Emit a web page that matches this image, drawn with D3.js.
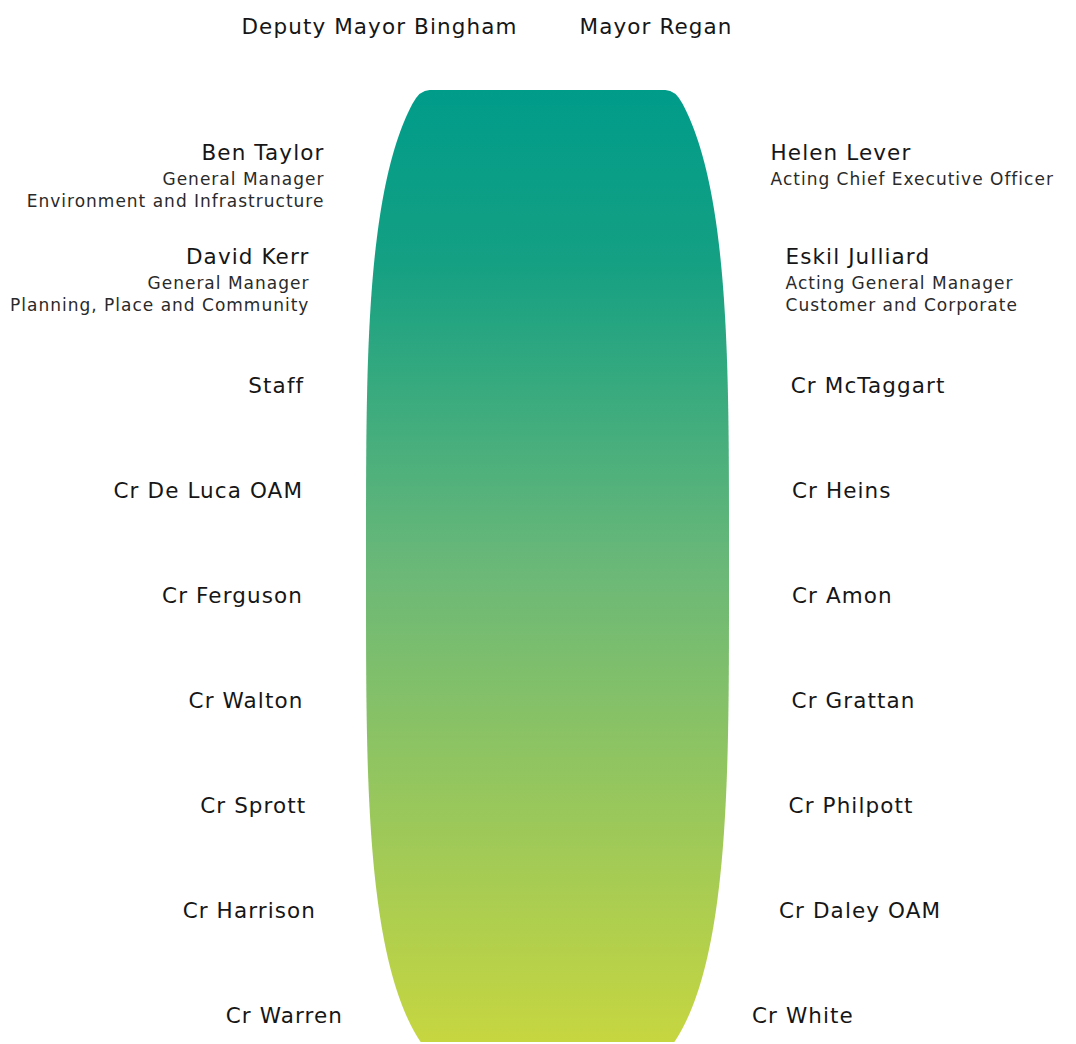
<!DOCTYPE html>
<html>
<head>
<meta charset="utf-8">
<script src="https://cdn.jsdelivr.net/npm/d3@7/dist/d3.min.js"></script>
<style>
  html, body { margin: 0; padding: 0; background: #fff; }
  svg { display: block; }
  .name { font-family: "DejaVu Sans", sans-serif; font-size: 21.5px; letter-spacing: 1.1px; fill: #161616; }
  .role { font-family: "DejaVu Sans", sans-serif; font-size: 17px; letter-spacing: 1px; fill: #2a2a2a; }
</style>
</head>
<body>
<svg id="chart" width="1076" height="1044"></svg>
<script>
// seats at the head of the table
var headSeats = ['Deputy Mayor Bingham', 'Mayor Regan'];

// seats down the left side, top to bottom
var leftNames = ['Ben Taylor', 'David Kerr', 'Staff', 'Cr De Luca OAM', 'Cr Ferguson',
    'Cr Walton', 'Cr Sprott', 'Cr Harrison', 'Cr Warren'];
var leftRoles = [
    ['General Manager', 'Environment and Infrastructure'],
    ['General Manager', 'Planning, Place and Community'],
    [], [], [], [], [], [], []
];

// seats down the right side, top to bottom
var rightNames = ['Helen Lever', 'Eskil Julliard', 'Cr McTaggart', 'Cr Heins', 'Cr Amon',
    'Cr Grattan', 'Cr Philpott', 'Cr Daley OAM', 'Cr White'];
var rightRoles = [
    ['Acting Chief Executive Officer'],
    ['Acting General Manager', 'Customer and Corporate'],
    [], [], [], [], [], [], []
];

var width = 1076, height = 1044;
var svg = d3.select('#chart');

// table outline: a superellipse cut flat at top and bottom
var table = { cx: 547.5, cy: 566, rx: 181.5, ry: 524, power: 3.5, top: 90, bottom: 1042, corner: 14 };

var halfWidth = function (y) {
    var u = Math.min(1, Math.abs(y - table.cy) / table.ry);
    return table.rx * Math.pow(1 - Math.pow(u, table.power), 1 / table.power);
};

// build the outline, rounding the two top corners
var tableOutline = function () {
    var p = d3.path();
    var topHw = halfWidth(table.top);
    var startY = table.top + table.corner;
    var ys = d3.range(startY, table.bottom, 2).concat([table.bottom]);

    p.moveTo(table.cx - topHw + 9, table.top);
    p.lineTo(table.cx + topHw - 9, table.top);
    p.quadraticCurveTo(table.cx + topHw + 1, table.top, table.cx + halfWidth(startY), startY);
    ys.forEach(function (y) { p.lineTo(table.cx + halfWidth(y), y); });
    ys.slice().reverse().forEach(function (y) { p.lineTo(table.cx - halfWidth(y), y); });
    p.quadraticCurveTo(table.cx - topHw - 1, table.top, table.cx - topHw + 9, table.top);
    p.closePath();
    return p.toString();
};

var defs = svg.append('defs');
var grad = defs.append('linearGradient')
    .attr('id', 'tableFill')
    .attr('gradientUnits', 'userSpaceOnUse')
    .attr('x1', 0).attr('x2', 0)
    .attr('y1', table.top).attr('y2', table.bottom);
grad.append('stop').attr('offset', '0%').attr('stop-color', '#009c8a');
grad.append('stop').attr('offset', '18%').attr('stop-color', '#14a083');
grad.append('stop').attr('offset', '50%').attr('stop-color', '#6ab878');
grad.append('stop').attr('offset', '100%').attr('stop-color', '#c6d640');

svg.append('path')
    .attr('d', tableOutline())
    .attr('fill', 'url(#tableFill)');

// rows down the table
var rowY = d3.scalePoint()
    .domain(d3.range(leftNames.length))
    .range([176, 1015]);

var gap = 63;
var blockShift = 24;   // multi-line blocks sit higher so their name lines up with the row top
var lineSteps = [25, 47];

var drawSide = function (names, roles, side) {
    var g = svg.append('g').attr('class', 'side-' + side);

    names.forEach(function (name, i) {
        var hasRoles = roles[i].length > 0;
        var nameY = rowY(i) - (hasRoles ? blockShift : 0);
        var hw = halfWidth(rowY(i));
        var edge = side === 'left' ? table.cx - hw - gap : table.cx + hw + gap;
        var anchor = side === 'left' ? 'end' : 'start';
        var baseline = nameY + 7.5;

        g.append('text')
            .attr('class', 'name')
            .attr('x', edge)
            .attr('y', baseline)
            .attr('text-anchor', anchor)
            .text(name);

        roles[i].forEach(function (role, j) {
            g.append('text')
                .attr('class', 'role')
                .attr('x', edge)
                .attr('y', baseline + lineSteps[j])
                .attr('text-anchor', anchor)
                .text(role);
        });
    });
};

drawSide(leftNames, leftRoles, 'left');
drawSide(rightNames, rightRoles, 'right');

// head of the table
var headX = d3.scalePoint().domain(headSeats).range([table.cx - 30, table.cx + 32]);
svg.append('g').attr('class', 'head')
    .selectAll('text')
    .data(headSeats)
    .join('text')
    .attr('class', 'name')
    .attr('x', function (d) { return headX(d); })
    .attr('y', 34)
    .attr('text-anchor', function (d, i) { return i === 0 ? 'end' : 'start'; })
    .text(function (d) { return d; });
</script>
</body>
</html>
